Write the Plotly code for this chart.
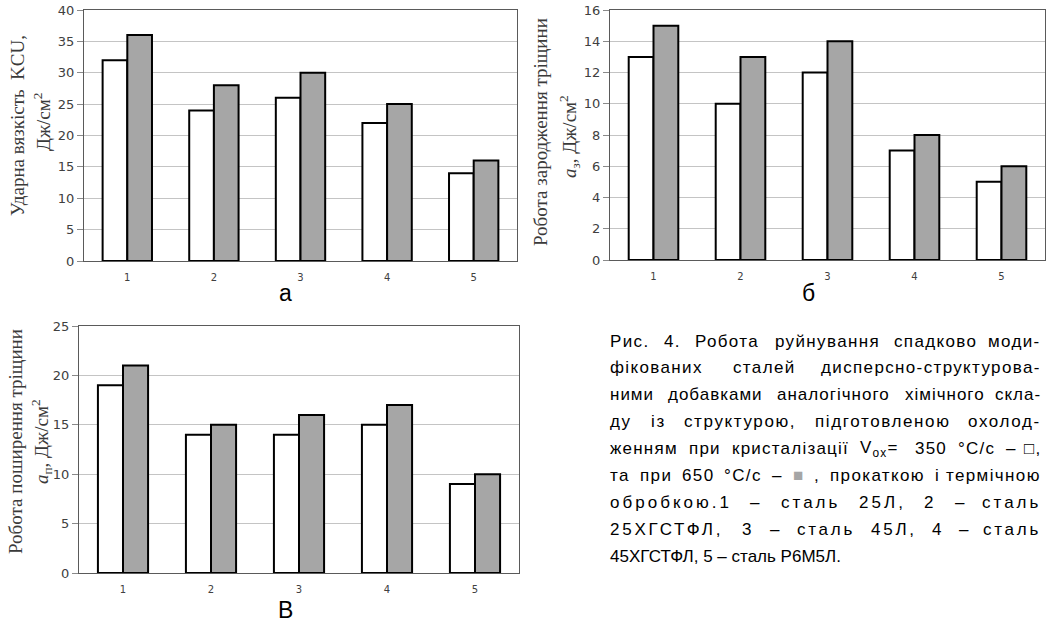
import plotly.graph_objects as go

# ---------------- data ----------------
categories = ["1", "2", "3", "4", "5"]
kcu_350 = [32, 24, 26, 22, 14]
kcu_650 = [36, 28, 30, 25, 16]
az_350 = [13, 10, 12, 7, 5]
az_650 = [15, 13, 14, 8, 6]
ap_350 = [19, 14, 14, 15, 9]
ap_650 = [21, 15, 16, 17, 10]

W, H = 1053, 625
GRAY = "#a6a6a6"
FRAME = "#5a5a5a"
GRID = "#c4c4c4"
TICKC = "#404040"


def px(x):
    return x / W


def py(y):
    return 1 - y / H


fig = go.Figure()

panels = [
    ("x", "y", kcu_350, kcu_650),
    ("x2", "y2", az_350, az_650),
    ("x3", "y3", ap_350, ap_650),
]
for xa, ya, s1, s2 in panels:
    fig.add_trace(go.Bar(x=categories, y=s1, xaxis=xa, yaxis=ya, marker_color="white",
                         marker_line_color="black", marker_line_width=2, showlegend=False,
                         offsetgroup="a", hoverinfo="skip"))
    fig.add_trace(go.Bar(x=categories, y=s2, xaxis=xa, yaxis=ya, marker_color=GRAY,
                         marker_line_color="black", marker_line_width=2, showlegend=False,
                         offsetgroup="b", hoverinfo="skip"))

xcommon = dict(type="category", showgrid=False, ticks="outside", ticklen=7,
               tickcolor="rgba(0,0,0,0)", showline=True, mirror=True, automargin=False,
               linecolor=FRAME, linewidth=1, tickfont=dict(family="DejaVu Sans", size=10, color=TICKC),
               fixedrange=True)
ycommon = dict(showgrid=True, gridcolor=GRID, gridwidth=1, ticks="outside", ticklen=6,
               tickcolor="#8a8a8a", showline=True, mirror=True, linecolor=FRAME, linewidth=1,
               zeroline=False, automargin=False,
               tickfont=dict(family="DejaVu Sans", size=13, color=TICKC),
               fixedrange=True)

fig.update_layout(
    width=W, height=H, autosize=False,
    margin=dict(l=0, r=0, t=0, b=0, pad=0),
    paper_bgcolor="white", plot_bgcolor="white",
    barmode="group", bargap=0.43, bargroupgap=0,
    xaxis=dict(domain=[px(84), px(517)], anchor="y", **xcommon),
    yaxis=dict(domain=[py(261), py(10)], anchor="x", range=[0, 40], dtick=5, **ycommon),
    xaxis2=dict(domain=[px(610), px(1045)], anchor="y2", **xcommon),
    yaxis2=dict(domain=[py(260), py(10)], anchor="x2", range=[0, 16], dtick=2, **ycommon),
    xaxis3=dict(domain=[px(79), px(519)], anchor="y3", **xcommon),
    yaxis3=dict(domain=[py(573), py(326)], anchor="x3", range=[0, 25], dtick=5, **ycommon),
)

ann = []
SERIF = "Liberation Serif"
TS = 19
# y-axis titles (two lines each)
ytitles = [
    ("Ударна вязкість  KCU,", 17, 126, "Дж/см<sup>2</sup>", 42, 122),
    ("Робота зародження тріщини", 540, 132, "<i>a</i><sub>з</sub>, Дж/см<sup>2</sup>", 569, 137),
    ("Робота поширення тріщини", 15, 442, "<i>a</i><sub>п</sub>, Дж/см<sup>2</sup>", 41, 442),
]
for t1, x1, y1, t2, x2, y2 in ytitles:
    for t, xx, yy in [(t1, x1, y1), (t2, x2, y2)]:
        ann.append(dict(text=t, x=px(xx), y=py(yy), xref="paper", yref="paper", showarrow=False,
                        textangle=-90, font=dict(family=SERIF, size=TS, color="#3a3a3a"),
                        xanchor="center", yanchor="middle"))

# panel letters
for lab, x, y in [("а", 285, 293), ("б", 808, 293), ("В", 285, 610)]:
    ann.append(dict(text=lab, x=px(x), y=py(y), xref="paper", yref="paper", showarrow=False,
                    font=dict(family="Liberation Sans", size=23, color="black"),
                    xanchor="center", yanchor="middle"))

# caption (justified with letter and word spacing)
CW = {"а": .556, "б": .573, "в": .531, "г": .365, "д": .583, "е": .556, "ж": .669, "з": .458,
      "и": .559, "й": .559, "к": .438, "л": .583, "м": .688, "н": .552, "о": .556, "п": .542,
      "р": .556, "с": .5, "т": .458, "у": .5, "ф": .823, "х": .5, "ц": .573, "ч": .521,
      "ш": .802, "щ": .823, "ь": .521, "ю": .75, "я": .542, "і": .222, "ї": .278, "є": .5,
      ".": .278, ",": .278, "-": .333, "–": .556, " ": .278, "°": .4, "/": .278, "=": .584,
      "□": .6, "■": .6, "Х": .667, "Г": .552, "С": .722, "Т": .611, "Ф": .823, "Л": .656,
      "Р": .667, "М": .833, "V": .667}


def est(word):
    w = 0
    for ch in word:
        if ch.isdigit():
            w += .556
        else:
            w += CW.get(ch, .6)
    return w


CFS = 17
LEFT, RIGHT = 608, 1043
FRAC = 0.5
caption = [
    (["Рис.", "4.", "Робота", "руйнування", "спадково", "моди-"], None, True),
    (["фікованих", "сталей", "дисперсно-структурова-"], None, True),
    (["ними", "добавками", "аналогічного", "хімічного", "скла-"], None, True),
    (["ду", "із", "структурою,", "підготовленою", "охолод-"], None, True),
    (["женням", "при", "кристалізації", "V<sub>ох</sub>=", "350", "°С/с", "–", "□,"],
     ["женням", "при", "кристалізації", "Vох=", "350", "°С/с", "–", "□,"], True),
    (["та", "при", "650", "°С/с", "–", "<span style='color:#a6a6a6'>■</span>", ",", "прокаткою", "і", "термічною"],
     ["та", "при", "650", "°С/с", "–", "■", ",", "прокаткою", "і", "термічною"], True),
    (["обробкою.1", "–", "сталь", "25Л,", "2", "–", "сталь"], None, True),
    (["25ХГСТФЛ,", "3", "–", "сталь", "45Л,", "4", "–", "сталь"], None, True),
    (["45ХГСТФЛ, 5 – сталь Р6М5Л."], None, False),
]
for i, (words, plain, just) in enumerate(caption):
    yc = 341 + 26.9 * i
    font = dict(family="Liberation Sans", size=CFS, color="black")
    if not just:
        ann.append(dict(text=words[0], x=px(LEFT), y=py(yc), xref="paper", yref="paper",
                        showarrow=False, font=font, xanchor="left", yanchor="middle"))
        continue
    plain = plain or words
    nat = [est(w) * CFS for w in plain]
    nchars = sum(len(w) for w in plain)
    extra = (RIGHT - LEFT) - sum(nat) - 0.278 * CFS * (len(plain) - 1)
    ls = max(0.0, FRAC * extra / nchars)
    ws = [n + ls * len(w) for n, w in zip(nat, plain)]
    gap = (RIGHT - LEFT - sum(ws)) / (len(ws) - 1)
    x = LEFT
    for j, w in enumerate(words):
        last = j == len(words) - 1
        txt = "<span style='letter-spacing:%.2fpx'>%s</span>" % (ls, w)
        ann.append(dict(text=txt, x=px(RIGHT if last else x), y=py(yc), xref="paper", yref="paper",
                        showarrow=False, font=font, xanchor="right" if last else "left",
                        yanchor="middle"))
        x += ws[j] + gap

fig.update_layout(annotations=ann)
fig.write_html("out.html", config={"displayModeBar": False},
               post_script="document.body.style.margin='0';document.body.style.overflow='hidden';")
